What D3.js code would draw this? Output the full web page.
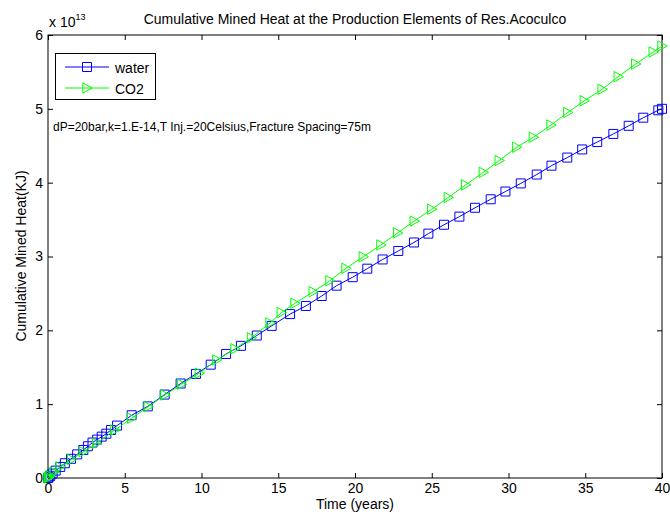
<!DOCTYPE html>
<html><head><meta charset="utf-8">
<script src="https://cdn.jsdelivr.net/npm/d3@7"></script>
<style>body{margin:0;background:#fff}svg{display:block;font-family:Arial,"Liberation Sans",sans-serif}</style>
</head><body><svg id="c" width="670" height="512"></svg>
<script>
const waterT = [0,0.05,0.15,0.3,0.5,0.8,1.1,1.5,1.9,2.3,2.6,2.9,3.2,3.5,3.8,4.1,4.5,5.45,6.5,7.6,8.64,9.64,10.6,11.6,12.57,13.6,14.57,15.77,16.8,17.83,18.8,19.85,20.8,21.8,22.82,23.84,24.78,25.8,26.8,27.82,28.84,29.8,30.8,31.84,32.8,33.83,34.8,35.78,36.83,37.83,38.78,39.76,40];
const waterV = [0,0.01,0.03,0.06,0.1,0.15,0.2,0.26,0.32,0.38,0.43,0.48,0.52,0.56,0.6,0.65,0.71,0.85,0.97,1.13,1.28,1.41,1.535,1.68,1.79,1.93,2.06,2.22,2.33,2.465,2.605,2.72,2.835,2.96,3.075,3.19,3.31,3.43,3.54,3.66,3.775,3.88,3.99,4.11,4.23,4.34,4.45,4.55,4.66,4.77,4.88,4.98,5.0];
const co2T = [0,0.05,0.13,0.4,0.78,1.54,2.3,3.17,4.36,5.45,6.53,7.62,8.7,9.86,11.0,12.18,13.26,14.46,15.2,16.09,17.28,18.37,19.41,20.54,21.69,22.78,23.86,25.0,26.08,27.21,28.36,29.4,30.53,31.62,32.77,33.86,34.94,36.1,37.15,38.29,39.43,40];
const co2V = [0,0.01,0.03,0.08,0.15,0.25,0.356,0.47,0.65,0.81,0.966,1.124,1.27,1.42,1.6,1.75,1.9,2.1,2.24,2.366,2.523,2.672,2.84,2.997,3.156,3.32,3.48,3.64,3.8,3.97,4.14,4.3,4.48,4.615,4.78,4.95,5.11,5.265,5.435,5.607,5.77,5.85];
const xTicks = [0,5,10,15,20,25,30,35,40];
const yTicks = [0,1,2,3,4,5,6];
const seriesNames = ["water","CO2"];
const seriesColors = ["#0000ff","#00ff00"];
const titleText = "Cumulative Mined Heat at the Production Elements of Res.Acoculco";
const noteText = "dP=20bar,k=1.E-14,T Inj.=20Celsius,Fracture Spacing=75m";

const svg = d3.select("#c");
const L=48,R=662,T=35,B=478;
const x = d3.scaleLinear().domain([0,40]).range([L,R]);
const y = d3.scaleLinear().domain([0,6]).range([B,T]);

svg.append("rect").attr("x",L).attr("y",T).attr("width",R-L).attr("height",B-T).attr("fill","none").attr("stroke","#000").attr("stroke-width",1);

const fs = "14px";
const fmt = d3.format("d");
const gx = svg.append("g").attr("transform",`translate(0,${B})`).call(d3.axisBottom(x).tickValues(xTicks).tickFormat(fmt).tickSizeInner(-5).tickSizeOuter(0).tickPadding(5));
const gxt = svg.append("g").attr("transform",`translate(0,${T})`).call(d3.axisTop(x).tickValues(xTicks).tickSizeInner(-5).tickSizeOuter(0).tickFormat(""));
const gy = svg.append("g").attr("transform",`translate(${L},0)`).call(d3.axisLeft(y).tickValues(yTicks).tickFormat(fmt).tickSizeInner(-5).tickSizeOuter(0).tickPadding(5));
const gyr = svg.append("g").attr("transform",`translate(${R},0)`).call(d3.axisRight(y).tickValues(yTicks).tickSizeInner(-5).tickSizeOuter(0).tickFormat(""));
[gx,gxt,gy,gyr].forEach(g=>{g.select(".domain").remove();g.selectAll("line").attr("stroke","#000");g.selectAll("text").attr("font-size",fs).attr("fill","#000").attr("font-family","Arial,'Liberation Sans',sans-serif");});

const data = [waterT.map((t,i)=>[t,waterV[i]]), co2T.map((t,i)=>[t,co2V[i]])];
const line = d3.line().x(d=>x(d[0])).y(d=>y(d[1]));
const sq = d3.symbol().type(d3.symbolSquare).size(81);
function tri(cx,cy){return `M${cx-4.2},${cy-5.2}L${cx+5.2},${cy}L${cx-4.2},${cy+5.2}Z`;}
data.forEach((ds,k)=>{
  const g = svg.append("g");
  g.append("path").attr("d",line(ds)).attr("fill","none").attr("stroke",seriesColors[k]).attr("stroke-width",1);
  if(k===0){
    g.selectAll("path.m").data(ds).enter().append("path").attr("class","m").attr("d",sq).attr("transform",d=>`translate(${x(d[0])},${y(d[1])})`).attr("fill","none").attr("stroke",seriesColors[k]).attr("stroke-width",1);
  } else {
    g.selectAll("path.m").data(ds).enter().append("path").attr("class","m").attr("d",d=>tri(x(d[0]),y(d[1]))).attr("fill","none").attr("stroke",seriesColors[k]).attr("stroke-width",1);
  }
});

const lg = svg.append("g");
lg.append("rect").attr("x",55.5).attr("y",53.5).attr("width",100).attr("height",46).attr("fill","#fff").attr("stroke","#000").attr("stroke-width",1);
seriesNames.forEach((n,k)=>{
  const yy = 67 + k*21;
  lg.append("line").attr("x1",65).attr("x2",109).attr("y1",yy).attr("y2",yy).attr("stroke",seriesColors[k]).attr("stroke-width",1);
  if(k===0) lg.append("path").attr("d",sq).attr("transform",`translate(87,${yy})`).attr("fill","none").attr("stroke",seriesColors[k]);
  else lg.append("path").attr("d",tri(87,yy)).attr("fill","none").attr("stroke",seriesColors[k]);
  lg.append("text").attr("x",115).attr("y",yy+6).attr("font-size",fs).text(n);
});

svg.append("text").attr("x",355).attr("y",24).attr("text-anchor","middle").attr("font-size",fs).text(titleText);
const ex = svg.append("text").attr("x",49).attr("y",26.5).attr("font-size",fs);
ex.append("tspan").text("x 10");
ex.append("tspan").attr("dy",-7).attr("font-size","9px").text("13");
svg.append("text").attr("x",53).attr("y",131).attr("font-size","12px").text(noteText);
svg.append("text").attr("x",355).attr("y",509).attr("text-anchor","middle").attr("font-size",fs).text("Time (years)");
svg.append("text").attr("transform","translate(26,256) rotate(-90)").attr("text-anchor","middle").attr("font-size",fs).text("Cumulative Mined Heat(KJ)");
</script></body></html>
